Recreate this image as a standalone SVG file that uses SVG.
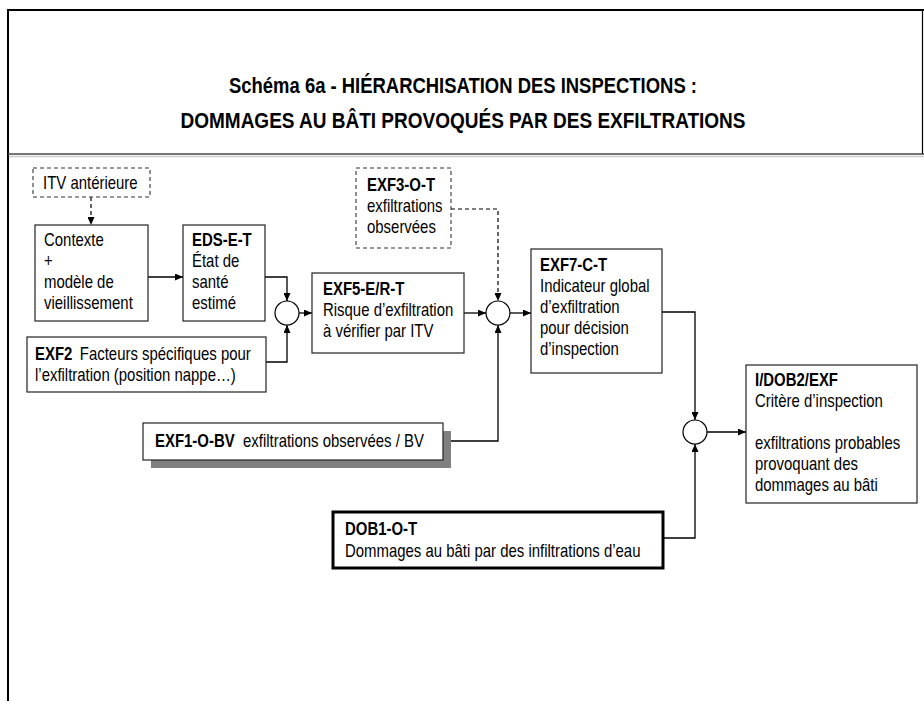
<svg xmlns="http://www.w3.org/2000/svg" width="924" height="701" viewBox="0 0 924 701">
<style>
text{font-family:"Liberation Sans",Arial,sans-serif;font-size:18px;fill:#000}
.t{font-weight:bold;font-size:22.5px}
.b{font-weight:bold}
.box{fill:#fff;stroke:#222;stroke-width:1.2}
.dbox{fill:#fff;stroke:#333;stroke-width:1.1;stroke-dasharray:4,3}
.ln{fill:none;stroke:#000;stroke-width:1.3}
.dl{fill:none;stroke:#000;stroke-width:1.2;stroke-dasharray:4,3}
.c{fill:#fff;stroke:#000;stroke-width:1.2}
</style>
<defs>
<marker id="ah" markerWidth="8" markerHeight="7" refX="8" refY="3.5" orient="auto" markerUnits="userSpaceOnUse"><path d="M0,0 L8,3.5 L0,7 z" fill="#000"/></marker>
</defs>
<rect width="924" height="701" fill="#fff"/>
<g id="frame">
<line x1="7" y1="10" x2="924" y2="10" stroke="#000" stroke-width="2.2"/>
<line x1="8" y1="9" x2="8" y2="701" stroke="#000" stroke-width="2"/>
<line x1="922.5" y1="10" x2="922.5" y2="154" stroke="#000" stroke-width="1.2"/>
<line x1="8" y1="154" x2="924" y2="154" stroke="#444" stroke-width="1.6"/>
<line x1="9" y1="156.5" x2="924" y2="156.5" stroke="#ccc" stroke-width="1.5"/>
<text class="t" transform="translate(463,93) scale(0.82,1)" text-anchor="middle">Schéma 6a - HIÉRARCHISATION DES INSPECTIONS :</text>
<text class="t" transform="translate(463,128) scale(0.845,1)" text-anchor="middle">DOMMAGES AU BÂTI PROVOQUÉS PAR DES EXFILTRATIONS</text>
</g>
<g id="connectors">
<path class="dl" d="M91,197 V225" marker-end="url(#ah)"/>
<path class="ln" d="M148,277 H183" marker-end="url(#ah)"/>
<path class="ln" d="M265,277 H287 V301" marker-end="url(#ah)"/>
<path class="ln" d="M266,362 H287 V325" marker-end="url(#ah)"/>
<path class="ln" d="M299,313 H312" marker-end="url(#ah)"/>
<path class="ln" d="M464,313 H486" marker-end="url(#ah)"/>
<path class="dl" d="M451,209 H498 V301" marker-end="url(#ah)"/>
<path class="ln" d="M443,441 H498 V325" marker-end="url(#ah)"/>
<path class="ln" d="M510,313 H531" marker-end="url(#ah)"/>
<path class="ln" d="M662,312 H695 V420" marker-end="url(#ah)"/>
<path class="ln" d="M707,432 H746" marker-end="url(#ah)"/>
<path class="ln" d="M663,538 H695 V444" marker-end="url(#ah)"/>
<circle class="c" cx="287" cy="313" r="12"/>
<circle class="c" cx="498" cy="313" r="12"/>
<circle class="c" cx="695" cy="432" r="12"/>
</g>
<g id="itv">
<rect class="dbox" x="33" y="168" width="117" height="29"/>
<text transform="translate(43,189) scale(0.83,1)">ITV antérieure</text>
</g>
<g id="contexte">
<rect class="box" x="35" y="225" width="113" height="96"/>
<text transform="translate(44,246) scale(0.83,1)">Contexte</text>
<text transform="translate(44,267) scale(0.83,1)">+</text>
<text transform="translate(44,288) scale(0.83,1)">modèle de</text>
<text transform="translate(44,309) scale(0.83,1)">vieillissement</text>
</g>
<g id="eds">
<rect class="box" x="183" y="225" width="82" height="96"/>
<text class="b" transform="translate(192,246) scale(0.83,1)">EDS-E-T</text>
<text transform="translate(192,267) scale(0.83,1)">État de</text>
<text transform="translate(192,288) scale(0.83,1)">santé</text>
<text transform="translate(192,309) scale(0.83,1)">estimé</text>
</g>
<g id="exf2">
<rect class="box" x="27" y="337" width="239" height="55"/>
<text transform="translate(35,360) scale(0.83,1)"><tspan class="b">EXF2</tspan><tspan x="54">Facteurs spécifiques pour</tspan></text>
<text transform="translate(35,381) scale(0.83,1)">l’exfiltration (position nappe…)</text>
</g>
<g id="exf5">
<rect class="box" x="312" y="273" width="152" height="80"/>
<text class="b" transform="translate(323,295) scale(0.83,1)">EXF5-E/R-T</text>
<text transform="translate(323,316) scale(0.83,1)">Risque d’exfiltration</text>
<text transform="translate(323,337) scale(0.83,1)">à vérifier par ITV</text>
</g>
<g id="exf3">
<rect class="dbox" x="356" y="168" width="95" height="80"/>
<text class="b" transform="translate(367,191) scale(0.83,1)">EXF3-O-T</text>
<text transform="translate(367,212) scale(0.83,1)">exfiltrations</text>
<text transform="translate(367,233) scale(0.83,1)">observées</text>
</g>
<g id="exf1">
<rect x="151" y="431" width="300" height="37" fill="#808080"/>
<rect class="box" x="143" y="423" width="300" height="37"/>
<text transform="translate(155,447) scale(0.83,1)"><tspan class="b">EXF1-O-BV</tspan><tspan x="106">exfiltrations observées / BV</tspan></text>
</g>
<g id="exf7">
<rect class="box" x="531" y="249" width="131" height="124"/>
<text class="b" transform="translate(540,271) scale(0.83,1)">EXF7-C-T</text>
<text transform="translate(540,292) scale(0.83,1)">Indicateur global</text>
<text transform="translate(540,313) scale(0.83,1)">d’exfiltration</text>
<text transform="translate(540,334) scale(0.83,1)">pour décision</text>
<text transform="translate(540,355) scale(0.83,1)">d’inspection</text>
</g>
<g id="idob2">
<rect class="box" x="746" y="365" width="171" height="138"/>
<text class="b" transform="translate(755,386) scale(0.83,1)">I/DOB2/EXF</text>
<text transform="translate(755,407) scale(0.83,1)">Critère d’inspection</text>
<text transform="translate(755,449) scale(0.83,1)">exfiltrations probables</text>
<text transform="translate(755,470) scale(0.83,1)">provoquant des</text>
<text transform="translate(755,491) scale(0.83,1)">dommages au bâti</text>
</g>
<g id="dob1">
<rect x="333" y="512" width="330" height="56" fill="#fff" stroke="#000" stroke-width="3"/>
<text class="b" transform="translate(345,535) scale(0.83,1)">DOB1-O-T</text>
<text transform="translate(345,557) scale(0.83,1)">Dommages au bâti par des infiltrations d’eau</text>
</g>
</svg>
